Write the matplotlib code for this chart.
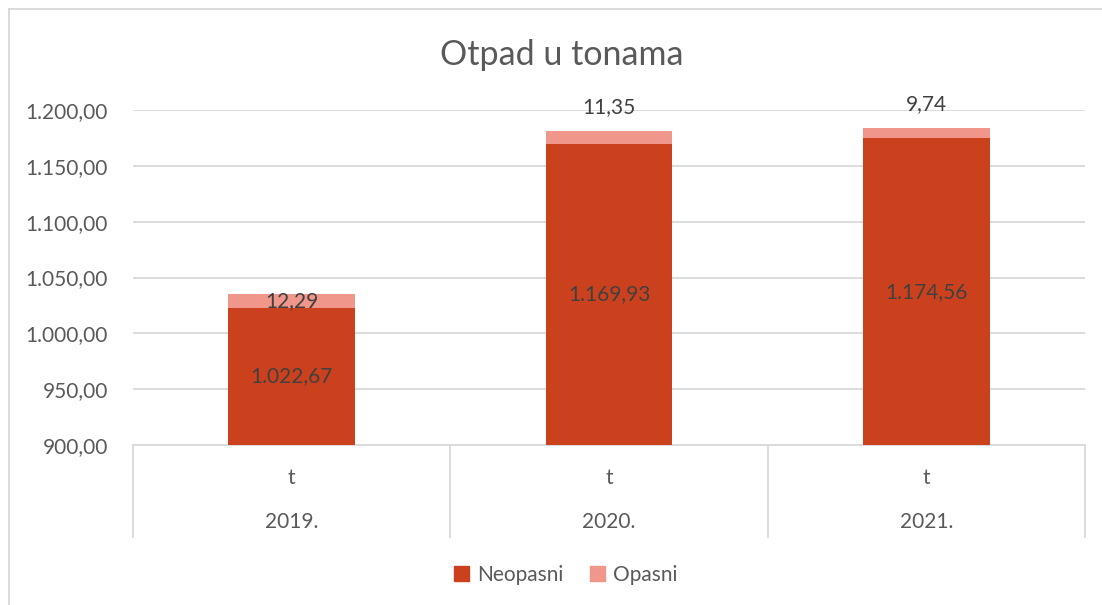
"""Stacked bar chart: Otpad u tonama (Excel-style, multi-level category axis)."""

import matplotlib

matplotlib.use("Agg")
import matplotlib.pyplot as plt
from matplotlib.lines import Line2D
from matplotlib.patches import Patch
import matplotlib.transforms as mtransforms

years = ["2019.", "2020.", "2021."]
unit_labels = ["t", "t", "t"]
neopasni = [1022.67, 1169.93, 1174.56]
opasni = [12.29, 11.35, 9.74]
neopasni_labels = ["1.022,67", "1.169,93", "1.174,56"]
opasni_labels = ["12,29", "11,35", "9,74"]
y_ticks = [900, 950, 1000, 1050, 1100, 1150, 1200]
y_tick_labels = ["900,00", "950,00", "1.000,00", "1.050,00", "1.100,00", "1.150,00", "1.200,00"]

COLOR_NEO = "#CC411D"
COLOR_OPA = "#F0968B"
TEXT = "#595959"
LABEL = "#404040"
GRID = "#D9D9D9"
Y_MIN = 900
FS = 15

plt.rcParams["font.family"] = ["Lato", "DejaVu Sans"]

fig = plt.figure(figsize=(11.02, 6.05), dpi=100)
ax = fig.add_axes([133 / 1102, 1 - 445 / 605, (1085 - 133) / 1102, (445 - 110) / 605])

x = list(range(len(years)))
bottoms = [Y_MIN] * len(x)
neo_heights = [v - Y_MIN for v in neopasni]
ax.bar(x, neo_heights, bottom=bottoms, width=0.4, color=COLOR_NEO, zorder=3)
ax.bar(x, opasni, bottom=neopasni, width=0.4, color=COLOR_OPA, zorder=3)

ax.set_xlim(-0.5, len(x) - 0.5)
ax.set_ylim(Y_MIN, 1200)
ax.set_yticks(y_ticks)
ax.set_yticklabels(y_tick_labels, fontsize=FS, color=TEXT)
ax.tick_params(axis="y", length=0, pad=18)
ax.yaxis.grid(True, color=GRID, linewidth=1.3, zorder=0)
ax.set_axisbelow(True)
for side in ["top", "right", "left"]:
    ax.spines[side].set_visible(False)
ax.spines["bottom"].set_color(GRID)
ax.spines["bottom"].set_linewidth(1.3)

# neopasni labels centred in the visible segment, opasni labels
# inside for 2019 and above the bar for 2020/2021 (as Excel placed them)
for i in x:
    ax.text(i, (Y_MIN + neopasni[i]) / 2, neopasni_labels[i], ha="center", va="center",
            fontsize=FS, color=LABEL, zorder=4)
    top = neopasni[i] + opasni[i]
    if i == 0:
        ax.text(i, neopasni[i] + opasni[i] / 2, opasni_labels[i], ha="center", va="center",
                fontsize=FS, color=LABEL, zorder=4)
    else:
        ax.annotate(opasni_labels[i], (i, top), xytext=(0, 17), textcoords="offset points",
                    ha="center", va="center", fontsize=FS, color=LABEL, zorder=4)

# multi-level category axis
ax.set_xticks([])
trans = mtransforms.blended_transform_factory(ax.transData, ax.transAxes)
box_h = (537 - 445) / (445 - 110)
for i in x:
    ax.text(i, -(478 - 445) / (445 - 110), unit_labels[i], transform=trans,
            ha="center", va="center", fontsize=FS, color=TEXT)
    ax.text(i, -(522 - 445) / (445 - 110), years[i], transform=trans,
            ha="center", va="center", fontsize=FS, color=TEXT)
for b in [-0.5 + k for k in range(len(x) + 1)]:
    ax.add_line(Line2D([b, b], [0, -box_h], transform=trans, color=GRID,
                       linewidth=1.3, clip_on=False))

fig.text(562 / 1102, 1 - 55 / 605, "Otpad u tonama", ha="center", va="center",
         fontsize=24.5, color=TEXT)

handles = [Patch(color=COLOR_NEO), Patch(color=COLOR_OPA)]
fig.legend(handles, ["Neopasni", "Opasni"], loc="center", ncol=2,
           bbox_to_anchor=(566 / 1102, 1 - 575 / 605), frameon=False,
           fontsize=FS, labelcolor=TEXT, handlelength=0.7, handleheight=0.7,
           handletextpad=0.4, columnspacing=1.3)

# chart area border (left and top edges visible)
fig.add_artist(Line2D([9 / 1102, 9 / 1102], [0, 1 - 9 / 605], transform=fig.transFigure,
                      color=GRID, linewidth=1.3))
fig.add_artist(Line2D([9 / 1102, 1], [1 - 9 / 605, 1 - 9 / 605], transform=fig.transFigure,
                      color=GRID, linewidth=1.3))

fig.savefig("out.png", dpi=100)
